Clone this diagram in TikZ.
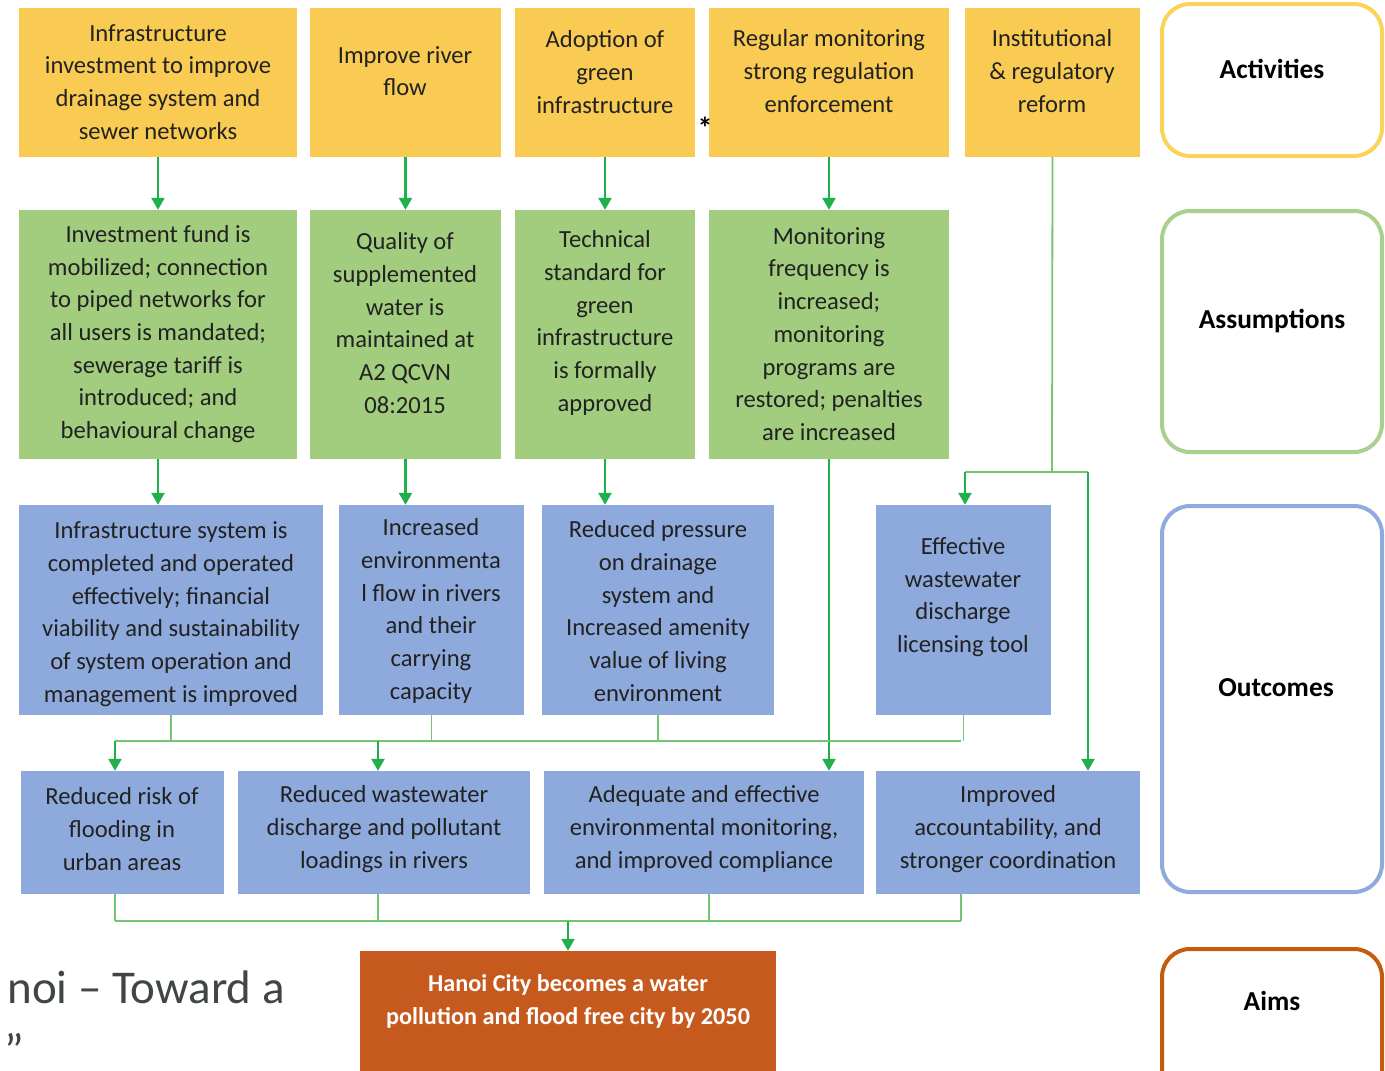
\documentclass[tikz,border=0pt]{standalone}
\usepackage{fontspec}
\setmainfont{Carlito}
\usetikzlibrary{arrows.meta}
\definecolor{yfill}{HTML}{F9CB52}
\definecolor{gfill}{HTML}{A2CD7F}
\definecolor{bfill}{HTML}{8EA9DB}
\definecolor{ofill}{HTML}{C65A1E}
\definecolor{txtc}{HTML}{222222}
\definecolor{arrg}{HTML}{1FB04B}
\definecolor{thing}{HTML}{72C672}
\definecolor{ybord}{HTML}{FBD35A}
\definecolor{gbord}{HTML}{A9D18E}
\definecolor{bbord}{HTML}{8FAADC}
\definecolor{obord}{HTML}{C55A11}
\definecolor{greytext}{HTML}{404548}
\tikzset{
  boxshape/.style={rectangle, inner sep=0pt, draw=none},
  ybox/.style={boxshape, fill=yfill},
  gbox/.style={boxshape, fill=gfill},
  bbox/.style={boxshape, fill=bfill},
  obox/.style={boxshape, fill=ofill},
  txt/.style={align=center, font=\fontsize{24.6}{32.7}\selectfont, text=txtc, inner sep=0pt},
  aimtxt/.style={align=center, font=\fontsize{24.2}{33}\selectfont\bfseries, text=white, inner sep=0pt},
  arr/.style={draw=arrg, line width=2.4pt, -{Triangle[width=13pt,length=12pt]}},
  thinl/.style={draw=thing, line width=1.8pt},
  lab/.style={line width=4pt, rounded corners=28pt, fill=white},
  labtxt/.style={font=\fontsize{27.4}{30}\selectfont\bfseries, text=black, inner sep=0pt}
}
\begin{document}
\begin{tikzpicture}[x=1pt,y=-1pt]
\useasboundingbox (0,0) rectangle (1385,1071);
\clip (0,0) rectangle (1385,1071);
\fill[white] (0,0) rectangle (1385,1071);

% Row 1: activities
\node[ybox, minimum width=278pt, minimum height=149pt] (a1) at (158,82.5) {};
\node[ybox, minimum width=191pt, minimum height=149pt] (a2) at (405.5,82.5) {};
\node[ybox, minimum width=180pt, minimum height=149pt] (a3) at (605,82.5) {};
\node[ybox, minimum width=240pt, minimum height=149pt] (a4) at (829,82.5) {};
\node[ybox, minimum width=175pt, minimum height=149pt] (a5) at (1052.5,82.5) {};
\node[txt] (ta1) at (158,82) {Infrastructure\\investment to improve\\drainage system and\\sewer networks};
\node[txt] (ta2) at (405,71) {Improve river\\flow};
\node[txt] (ta3) at (605,72) {Adoption of\\green\\infrastructure};
\node[txt] (ta4) at (829,71) {Regular monitoring\\strong regulation\\enforcement};
\node[txt] (ta5) at (1052,71) {Institutional\\\& regulatory\\reform};
\node[font=\fontsize{30}{30}\selectfont\bfseries, inner sep=0pt] (ast) at (705,128) {*};

% Row 2: assumptions
\node[gbox, minimum width=278pt, minimum height=249pt] (s1) at (158,334.5) {};
\node[gbox, minimum width=191pt, minimum height=249pt] (s2) at (405.5,334.5) {};
\node[gbox, minimum width=180pt, minimum height=249pt] (s3) at (605,334.5) {};
\node[gbox, minimum width=240pt, minimum height=249pt] (s4) at (829,334.5) {};
\node[txt] (ts1) at (158,334) {Investment fund is\\mobilized; connection\\to piped networks for\\all users is mandated;\\sewerage tariff is\\introduced; and\\behavioural change};
\node[txt] (ts2) at (405,323) {Quality of\\supplemented\\water is\\maintained at\\A2 QCVN\\08:2015};
\node[txt] (ts3) at (605,323) {Technical\\standard for\\green\\infrastructure\\is formally\\approved};
\node[txt] (ts4) at (829,334) {Monitoring\\frequency is\\increased;\\monitoring\\programs are\\restored; penalties\\are increased};

% Row 3: outcomes
\node[bbox, minimum width=304pt, minimum height=210pt] (r31) at (171,610) {};
\node[bbox, minimum width=185pt, minimum height=210pt] (r32) at (431.5,610) {};
\node[bbox, minimum width=232pt, minimum height=210pt] (r33) at (658,610) {};
\node[bbox, minimum width=175pt, minimum height=210pt] (r34) at (963.5,610) {};
\node[txt] (tr31) at (171,614) {Infrastructure system is\\completed and operated\\effectively; financial\\viability and sustainability\\of system operation and\\management is improved};
\node[txt] (tr32) at (431,611) {Increased\\environmenta\\l flow in rivers\\and their\\carrying\\capacity};
\node[txt] (tr33) at (658,611) {Reduced pressure\\on drainage\\system and\\Increased amenity\\value of living\\environment};
\node[txt] (tr34) at (963,597) {Effective\\wastewater\\discharge\\licensing tool};

% Row 4: outcomes
\node[bbox, minimum width=203pt, minimum height=123pt] (r41) at (122.5,832.5) {};
\node[bbox, minimum width=292pt, minimum height=123pt] (r42) at (384,832.5) {};
\node[bbox, minimum width=320pt, minimum height=123pt] (r43) at (704,832.5) {};
\node[bbox, minimum width=264pt, minimum height=123pt] (r44) at (1008,832.5) {};
\node[txt] (tr41) at (122,829) {Reduced risk of\\flooding in\\urban areas};
\node[txt] (tr42) at (384,829) {Reduced wastewater\\discharge and pollutant\\loadings in rivers};
\node[txt] (tr43) at (704,829) {Adequate and effective\\environmental monitoring,\\and improved compliance};
\node[txt] (tr44) at (1008,829) {Improved\\accountability, and\\stronger coordination};

% Aim
\node[obox, minimum width=416pt, minimum height=140pt] (aim) at (568,1021) {};
\node[aimtxt] (taim) at (568,1001) {Hanoi City becomes a water\\pollution and flood free city by 2050};

% Right-hand labels
\draw[lab, draw=ybord] (1162,4) rectangle (1382,156);
\draw[lab, draw=gbord] (1162,211) rectangle (1382,452);
\draw[lab, draw=bbord] (1162,506) rectangle (1382,892);
\draw[lab, draw=obord] (1162,949) rectangle (1382,1110);
\node[labtxt] (l1) at (1272,69) {Activities};
\node[labtxt] (l2) at (1272,321) {Assumptions};
\node[labtxt] (l3) at (1276,688) {Outcomes};
\node[labtxt] (l4) at (1272,1001) {Aims};

% Cut-off caption text at lower left
\node[font=\fontsize{47}{60}\selectfont, text=greytext, inner sep=0pt, anchor=base east] (cap1) at (285,1003) {noi – Toward a};
\node[font=\fontsize{47}{60}\selectfont, text=greytext, inner sep=0pt, anchor=base west] (cap2) at (4,1066) {”};

% Connectors row 1 -> row 2
\draw[arr] (a1.south) -- (s1.north);
\draw[arr] (a2.south) -- (s2.north);
\draw[arr] (a3.south) -- (s3.north);
\draw[arr] (a4.south) -- (s4.north);

% Row 2 -> row 3
\draw[arr] (s1.south) -- (s1.south |- r31.north);
\draw[arr] (s2.south) -- (s2.south |- r32.north);
\draw[arr] (s3.south) -- (s3.south |- r33.north);
\draw[arr] (s4.south) -- (s4.south |- r43.north);

% Institutional reform branches
\coordinate (j5) at (1052,472);
\coordinate (jl) at (965,472);
\coordinate (jr) at (1088,472);
\draw[thinl] (a5.south) -- (j5);
\draw[thinl] (jl) -- (jr);
\draw[arr] (jl) -- (jl |- r34.north);
\draw[arr] (jr) -- (jr |- r44.north);

% Row 3 -> row 4 bus
\coordinate (b1) at (115,741);
\coordinate (b2) at (378,741);
\coordinate (b3) at (961,741);
\draw[thinl] (r31.south) -- (r31.south |- b1);
\draw[thinl] (r32.south) -- (r32.south |- b1);
\draw[thinl] (r33.south) -- (r33.south |- b1);
\draw[thinl] (r34.south) -- (r34.south |- b1);
\draw[thinl] (b1) -- (b3);
\draw[arr] (b1) -- (b1 |- r41.north);
\draw[arr] (b2) -- (b2 |- r42.north);

% Row 4 -> aim bus
\coordinate (c1) at (115,921);
\coordinate (c2) at (378,921);
\coordinate (c3) at (709,921);
\coordinate (c4) at (961,921);
\coordinate (c5) at (568,921);
\draw[thinl] (r41.south -| c1) -- (c1);
\draw[thinl] (r42.south -| c2) -- (c2);
\draw[thinl] (r43.south -| c3) -- (c3);
\draw[thinl] (r44.south -| c4) -- (c4);
\draw[thinl] (c1) -- (c4);
\draw[arr] (c5) -- (c5 |- aim.north);
\end{tikzpicture}
\end{document}
